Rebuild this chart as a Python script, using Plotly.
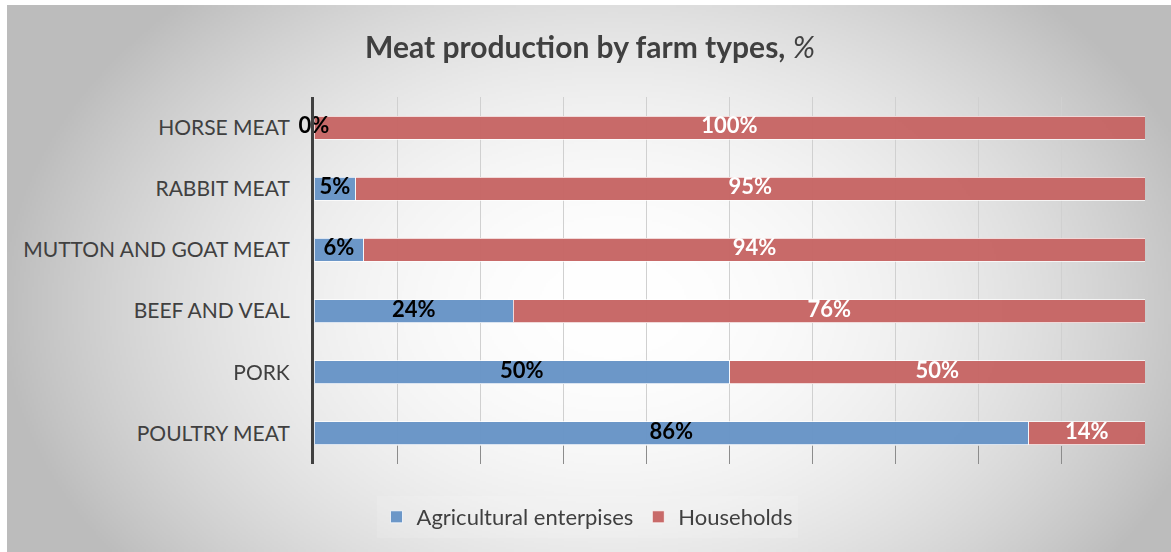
import base64
import struct
import zlib

import numpy as np
import plotly.graph_objects as go

# Shares of meat production by farm type, %
categories = ["POULTRY MEAT", "PORK", "BEEF AND VEAL",
              "MUTTON AND GOAT MEAT", "RABBIT MEAT", "HORSE MEAT"]
enterprises = [86, 50, 24, 6, 5, 0]
households = [14, 50, 76, 94, 95, 100]
series_names = ["Agricultural enterpises", "Households"]

W, H = 1171, 552
BLUE = "#6894C7"
RED = "#C76665"
FONT = "Lato"


def png_data_uri(gray):
    """Encode a 2-D uint8 array as a grayscale PNG data URI."""
    h, w = gray.shape
    raw = b"".join(b"\x00" + gray[r].tobytes() for r in range(h))

    def chunk(tag, data):
        c = tag + data
        return struct.pack(">I", len(data)) + c + struct.pack(">I", zlib.crc32(c) & 0xFFFFFFFF)

    png = (b"\x89PNG\r\n\x1a\n"
           + chunk(b"IHDR", struct.pack(">IIBBBBB", w, h, 8, 0, 0, 0, 0))
           + chunk(b"IDAT", zlib.compress(raw, 9))
           + chunk(b"IEND", b""))
    return "data:image/png;base64," + base64.b64encode(png).decode()


# radial white-to-grey backdrop
bw, bh = 582, 274
yy, xx = np.mgrid[0:bh, 0:bw]
cx, cy = bw * 0.52, bh * 0.55
d = np.sqrt(((xx - cx) / (bw * 0.5)) ** 2 + ((yy - cy) / (bh * 0.75)) ** 2)
shade = 255 - 60 * np.clip(d, 0, 1.05) ** 2
backdrop = png_data_uri(np.clip(shade, 0, 255).astype(np.uint8))

fig = go.Figure()

fig.add_trace(go.Bar(
    y=categories, x=enterprises, name=series_names[0], orientation="h",
    marker=dict(color=BLUE, line=dict(color="rgba(255,255,255,0.75)", width=1)),
    opacity=0.97, hoverinfo="skip",
))
fig.add_trace(go.Bar(
    y=categories, x=households, name=series_names[1], orientation="h",
    marker=dict(color=RED, line=dict(color="rgba(255,255,255,0.75)", width=1)),
    opacity=0.97, hoverinfo="skip",
))

# value labels centred in each segment
fig.add_trace(go.Scatter(
    y=categories, x=[a / 2 for a in enterprises], mode="text",
    text=[f"{a}%" for a in enterprises],
    textfont=dict(family=FONT, size=22, color="#000000", weight="bold"),
    showlegend=False, hoverinfo="skip", cliponaxis=False,
))
fig.add_trace(go.Scatter(
    y=categories, x=[a + h / 2 for a, h in zip(enterprises, households)], mode="text",
    text=[f"{h}%" for h in households],
    textfont=dict(family=FONT, size=22, color="#FFFFFF", weight="bold"),
    showlegend=False, hoverinfo="skip", cliponaxis=False,
))

fig.update_layout(
    width=W, height=H,
    barmode="stack", bargap=0.625,
    margin=dict(l=314, r=26, t=97, b=88),
    paper_bgcolor="rgba(0,0,0,0)", plot_bgcolor="rgba(0,0,0,0)",
    font=dict(family=FONT, color="#404040"),
    title=dict(
        text="<b>Meat production by farm types, </b><i>%</i>",
        font=dict(family=FONT, size=30, color="#404040"),
        xref="container", x=590 / W, xanchor="center",
        yref="container", y=1 - 47 / H, yanchor="middle",
    ),
    xaxis=dict(
        range=[0, 100], dtick=10, showticklabels=False,
        showgrid=True, gridcolor="#D0D0D0", gridwidth=1,
        ticks="inside", ticklen=18, tickcolor="#8C8C8C", tickwidth=1,
        zeroline=False, fixedrange=True,
    ),
    yaxis=dict(
        categoryorder="array", categoryarray=categories,
        range=[-0.5, 5.5],
        showline=True, linecolor="#404040", linewidth=3,
        ticks="outside", ticklen=17, tickcolor="rgba(0,0,0,0)",
        tickfont=dict(family=FONT, size=21, color="#404040"),
        showgrid=False, zeroline=False, fixedrange=True,
    ),
    legend=dict(
        orientation="h",
        xref="container", x=587 / W, xanchor="center",
        yref="container", y=1 - 517 / H, yanchor="middle",
        font=dict(family=FONT, size=22, color="#404040"),
        bgcolor="rgba(255,255,255,0.12)",
        itemwidth=30, traceorder="normal",
    ),
    images=[dict(
        source=backdrop, xref="paper", yref="paper",
        x=-314 / (W - 340) + 7 / (W - 340), y=1 + (97 - 5) / (H - 185),
        sizex=(W - 7) / (W - 340), sizey=(H - 5) / (H - 185),
        xanchor="left", yanchor="top", sizing="stretch", layer="below",
    )],
)

fig.write_html("out.html")
